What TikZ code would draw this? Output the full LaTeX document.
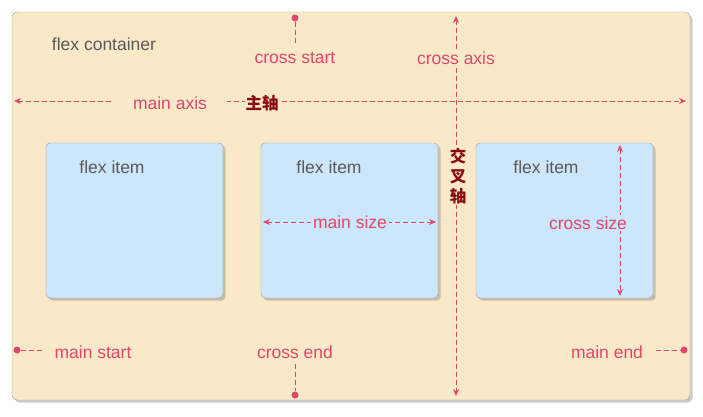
\documentclass[tikz,border=0pt]{standalone}
\usepackage{fontspec}
\setmainfont{Liberation Sans}
\newfontfamily\cjk{Noto Sans CJK SC}
\usetikzlibrary{arrows.meta,positioning,shadows}
\definecolor{beige}{HTML}{F9E9C9}
\definecolor{itemblue}{HTML}{CCE6FB}
\definecolor{axisred}{HTML}{E0476A}
\definecolor{cjkred}{HTML}{8A0A12}

\begin{document}
\begin{tikzpicture}[x=1pt,y=-1pt,
	container/.style ={rectangle,draw=gray!80,rounded corners=5pt,fill=beige,drop shadow={opacity=.4}},
	item/.style      ={rectangle,draw=gray!80,rounded corners=4pt,fill=itemblue,minimum width=177pt,minimum height=155pt,inner sep=0pt,drop shadow={opacity=.4}},
	lbl/.style       ={text=axisred,font=\fontsize{17.5}{20}\selectfont,inner sep=2pt},
	title/.style     ={text=black!65,font=\fontsize{17.5}{20}\selectfont},
	hanzi/.style     ={text=cjkred,font=\cjk\bfseries\fontsize{16.5}{20}\selectfont,inner sep=1pt},
	paths/.style     ={draw=axisred,dashed,thick,dash pattern=on 5pt off 3pt},
	both/.style      ={paths,{Stealth[length=7pt,width=6pt]}-{Stealth[length=7pt,width=6pt]}},
	dot/.style       ={circle,fill=axisred,inner sep=0pt,minimum size=7pt},
	]
	\useasboundingbox (0,0) rectangle (703,416);
	\node [container,minimum width=678pt,minimum height=388pt] (box) at (351,206) {};
	\node [title] at (104,44) {flex container};

	\node [item] (i1) at (134.5,220.5) {};
	\node [item] (i2) at (349.5,220.5) {};
	\node [item] (i3) at (564.5,220.5) {};
	\foreach \it/\x in {i1/112,i2/329,i3/546}
		\node [title] at (\x,167) {flex item};

	% main axis
	\coordinate (ml) at (14,101);
	\coordinate (mr) at (686,101);
	\draw [both] (ml) -- (mr);
	\node [lbl,fill=beige,inner xsep=20pt] (ma) at (170,103) {main axis};
	\node [hanzi,fill=beige] (zh) at (262,103) {主轴};

	% cross axis
	\coordinate (ct) at (456,16);
	\coordinate (cb) at (456,396);
	\draw [both] (ct) -- (cb);
	\node [lbl,fill=beige] (ca) at (456,58) {cross axis};
	\node [hanzi,fill=beige,align=center,text width=18pt] (jc) at (458,176) {交\\叉\\轴};

	% cross start / end
	\node [dot] (csd) at (295,18) {};
	\node [lbl] (cs) at (295,58) {cross start};
	\coordinate (csl) at (295,44);
	\draw [paths] (csd) -- (csl);
	\node [dot] (ced) at (295,395) {};
	\node [lbl] (ce) at (295,352) {cross end};
	\coordinate (cel) at (295,364);
	\draw [paths] (cel) -- (ced);

	% main start / end
	\node [dot] (msd) at (17,350) {};
	\node [lbl] (ms) at (93,352) {main start};
	\coordinate (msl) at (44,350);
	\draw [paths] (msd) -- (msl);
	\node [dot] (med) at (684,350) {};
	\node [lbl] (me) at (607,352) {main end};
	\coordinate (mel) at (656,350);
	\draw [paths] (mel) -- (med);

	% sizes
	\coordinate (sl) at (263,222);
	\coordinate (sr) at (436,222);
	\draw [both] (sl) -- (sr);
	\node [lbl,fill=itemblue] (msz) at (350,222) {main size};
	\coordinate (st) at (620,145);
	\coordinate (sb) at (620,296);
	\draw [both] (st) -- (sb);
	\node [lbl,fill=itemblue] (csz) at (588,223) {cross size};
\end{tikzpicture}
\end{document}
